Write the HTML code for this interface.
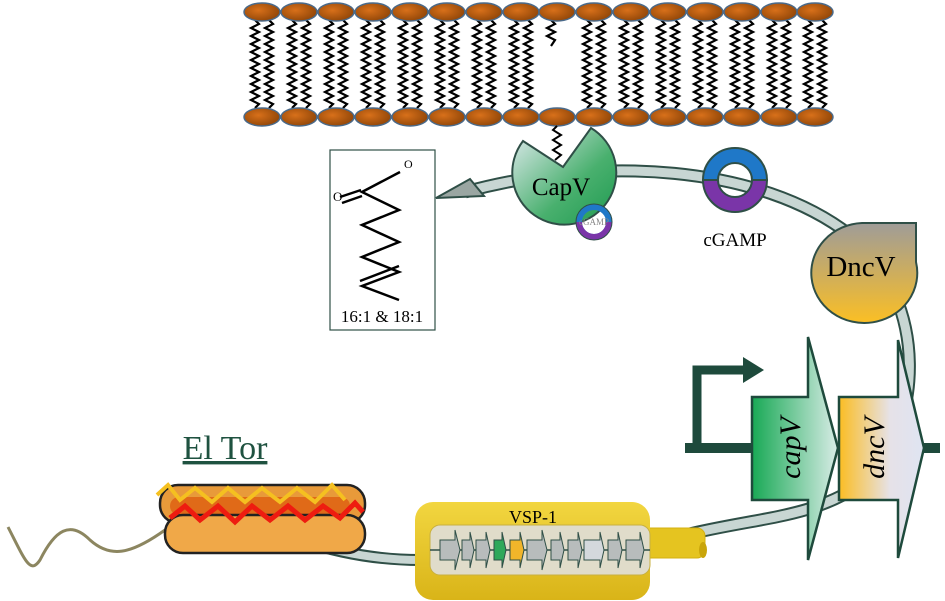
<!DOCTYPE html>
<html><head><meta charset="utf-8"><style>
html,body{margin:0;padding:0;background:#fff;}
svg{display:block;}
text{font-family:"Liberation Serif",serif;}
</style></head><body>
<svg width="945" height="601" viewBox="0 0 945 601" xmlns="http://www.w3.org/2000/svg">
<defs>
<radialGradient id="head" cx="0.4" cy="0.4" r="0.7"><stop offset="0" stop-color="#d8701a"/><stop offset="1" stop-color="#8a4206"/></radialGradient>
<linearGradient id="capv" x1="0" y1="0" x2="1" y2="1"><stop offset="0" stop-color="#e4ecf2"/><stop offset="0.6" stop-color="#49b06e"/><stop offset="1" stop-color="#1e9a50"/></linearGradient>
<linearGradient id="dncv" x1="0" y1="0" x2="0" y2="1"><stop offset="0" stop-color="#9f9c98"/><stop offset="1" stop-color="#fbbf24"/></linearGradient>
<linearGradient id="capg" x1="0" y1="0" x2="1" y2="0"><stop offset="0" stop-color="#18a955"/><stop offset="1" stop-color="#d8ece6"/></linearGradient>
<linearGradient id="dncg" x1="0" y1="0" x2="1" y2="0"><stop offset="0" stop-color="#fbbd22"/><stop offset="0.6" stop-color="#e6e2e8"/><stop offset="1" stop-color="#dfe4f2"/></linearGradient>
<linearGradient id="yel" x1="0" y1="0" x2="0" y2="1"><stop offset="0" stop-color="#f2d640"/><stop offset="1" stop-color="#d9b418"/></linearGradient>
<polyline id="tail" fill="none" stroke="#000" stroke-width="2.2" points="0,20 4,24 -4,28 4,32 -4,36 4,40 -4,44 4,48 -4,52 4,56 -4,60 4,64 -4,68 4,72 -4,76 4,80 -4,84 4,88 -4,92 4,96 -4,100 4,104 0,108"/>
<g id="col">
<use href="#tail" x="-7"/><use href="#tail" x="7"/>
<ellipse cx="0" cy="12" rx="18" ry="9" fill="url(#head)" stroke="#4a6a8a" stroke-width="1.5"/>
<ellipse cx="0" cy="117" rx="18" ry="9" fill="url(#head)" stroke="#4a6a8a" stroke-width="1.5"/>
</g>
</defs>

<!-- membrane -->
<use href="#col" x="262"/><use href="#col" x="299"/><use href="#col" x="336"/><use href="#col" x="373"/>
<use href="#col" x="410"/><use href="#col" x="447"/><use href="#col" x="484"/><use href="#col" x="521"/>
<g>
<polyline fill="none" stroke="#000" stroke-width="2.2" points="551,20 555,24 547,28 555,32 547,36 555,40 551,46"/>
<ellipse cx="557" cy="12" rx="18" ry="9" fill="url(#head)" stroke="#4a6a8a" stroke-width="1.5"/>
<ellipse cx="557" cy="117" rx="18" ry="9" fill="url(#head)" stroke="#4a6a8a" stroke-width="1.5"/>
</g>
<use href="#col" x="594"/><use href="#col" x="631"/><use href="#col" x="668"/><use href="#col" x="705"/>
<use href="#col" x="742"/><use href="#col" x="779"/><use href="#col" x="815"/>

<!-- main arc -->
<path d="M465,192 C600,155 760,165 850,235 C930,300 925,430 860,485 C800,525 740,515 640,548" fill="none" stroke="#2f4f47" stroke-width="13"/>
<path d="M465,192 C600,155 760,165 850,235 C930,300 925,430 860,485 C800,525 740,515 640,548" fill="none" stroke="#c8d6d3" stroke-width="9"/>
<path d="M420,560 Q360,560 300,540" fill="none" stroke="#2f4f47" stroke-width="12"/>
<path d="M420,560 Q360,560 300,540" fill="none" stroke="#c8d6d3" stroke-width="8"/>
<polygon points="436,198 470,179 484,196" fill="#9aa6a2" stroke="#2f4f47" stroke-width="2"/>

<!-- lipid box -->
<rect x="330" y="150" width="105" height="180" fill="#fff" stroke="#2f4f47" stroke-width="1.2"/>
<g stroke="#000" stroke-width="2.5" fill="none">
<polyline points="400,172 362,192 399,210 362,225 399,242 362,257 399,272 362,286 399,300"/>
<line x1="340" y1="197" x2="361" y2="190"/><line x1="342" y1="203" x2="362" y2="196"/>
<line x1="399" y1="266" x2="360" y2="281"/>
</g>
<text x="333" y="201" font-size="13">O</text>
<text x="404" y="168" font-size="12">O</text>
<text x="382" y="322" font-size="17" text-anchor="middle">16:1 &amp; 18:1</text>

<!-- CapV -->
<polyline fill="none" stroke="#000" stroke-width="2" points="557,126 553,130 561,135 553,140 561,145 553,150 561,155 555,160"/>
<path d="M563,167 L591,128 A52,52 0 1 1 523,141 Z" fill="url(#capv)" stroke="#2f4f47" stroke-width="2"/>
<text x="561" y="195" font-size="25" text-anchor="middle">CapV</text>
<circle cx="594" cy="222" r="15" fill="none" stroke="#1f78c8" stroke-width="6"/>
<path d="M579,222 A15,15 0 0 0 609,222" fill="none" stroke="#7a35a8" stroke-width="6"/>
<circle cx="594" cy="222" r="18" fill="none" stroke="#2f4f47" stroke-width="1"/>
<text x="594" y="225" font-size="9" text-anchor="middle" fill="#888" font-family="Liberation Sans,sans-serif">cGAMP</text>

<!-- cGAMP -->
<path d="M703,180 A32,32 0 0 1 767,180 L752,180 A17,17 0 0 0 718,180 Z" fill="#1f78c8" stroke="#2f4f47" stroke-width="2"/>
<path d="M703,180 A32,32 0 0 0 767,180 L752,180 A17,17 0 0 1 718,180 Z" fill="#7a35a8" stroke="#2f4f47" stroke-width="2"/>
<text x="735" y="246" font-size="19" text-anchor="middle">cGAMP</text>

<!-- DncV -->
<path d="M916,223 L916,262 A53,50 0 1 1 862,223 Z" fill="url(#dncv)" stroke="#2f4f47" stroke-width="2"/>
<text x="861" y="276" font-size="29" text-anchor="middle">DncV</text>

<!-- genes -->
<line x1="685" y1="448" x2="940" y2="448" stroke="#1e4a3c" stroke-width="10"/>
<path d="M697,448 L697,370 L745,370" fill="none" stroke="#1e4a3c" stroke-width="9"/>
<polygon points="743,357 764,370 743,383" fill="#1e4a3c"/>
<polygon points="752,397 808,397 808,337 838,448 808,560 808,500 752,500" fill="url(#capg)" stroke="#1e4a3c" stroke-width="2.5"/>
<text transform="translate(800,448) rotate(-90)" font-size="30" font-style="italic" text-anchor="middle">capV</text>
<polygon points="839,397 898,397 898,340 924,448 898,558 898,500 839,500" fill="url(#dncg)" stroke="#1e4a3c" stroke-width="2.5"/>
<text transform="translate(884,448) rotate(-90)" font-size="30" font-style="italic" text-anchor="middle">dncV</text>

<!-- VSP-1 -->
<rect x="640" y="528" width="65" height="30" rx="8" fill="#e5c420" stroke="#d4b010"/>
<ellipse cx="703" cy="550" rx="4" ry="8" fill="#c9a50a"/>
<rect x="415" y="502" width="235" height="98" rx="18" fill="url(#yel)"/>
<rect x="430" y="525" width="220" height="50" rx="10" fill="#e0dcca" stroke="#c8b040"/>
<line x1="430" y1="550" x2="650" y2="550" stroke="#2f4f47" stroke-width="1.5"/>
<g stroke="#2f4f47" stroke-width="1" fill="#b8bcbc">
<polygon points="440,540 455,540 455,530 460,550 455,570 455,560 440,560"/>
<polygon points="462,540 470,540 470,532 474,550 470,568 470,560 462,560"/>
<polygon points="476,540 486,540 486,532 490,550 486,568 486,560 476,560"/>
<polygon points="494,540 502,540 502,532 506,550 502,568 502,560 494,560" fill="#2ea85a"/>
<polygon points="510,540 520,540 520,532 524,550 520,568 520,560 510,560" fill="#f1b52a"/>
<polygon points="527,540 542,540 542,530 547,550 542,570 542,560 527,560"/>
<polygon points="551,540 560,540 560,532 564,550 560,568 560,560 551,560"/>
<polygon points="568,540 578,540 578,532 582,550 578,568 578,560 568,560"/>
<polygon points="584,540 600,540 600,532 604,550 600,568 600,560 584,560" fill="#d4d8dc"/>
<polygon points="608,540 618,540 618,532 622,550 618,568 618,560 608,560"/>
<polygon points="626,540 640,540 640,532 644,550 640,568 640,560 626,560"/>
</g>
<text x="533" y="523" font-size="18" text-anchor="middle">VSP-1</text>

<!-- El Tor -->
<text x="225" y="459" font-size="34" text-anchor="middle" fill="#1f5240" text-decoration="underline">El Tor</text>
<path d="M8,527 C25,560 30,575 40,560 C55,530 70,520 90,540 C110,558 130,555 165,530" fill="none" stroke="#8c8660" stroke-width="3"/>
<rect x="160" y="485" width="205" height="38" rx="18" fill="#e89a3a" stroke="#222" stroke-width="2.5"/>
<rect x="170" y="497" width="180" height="18" rx="9" fill="#e06a18"/>
<rect x="165" y="515" width="200" height="38" rx="18" fill="#f0a848" stroke="#222" stroke-width="2.5"/>
<polyline fill="none" stroke="#f5c020" stroke-width="4" points="157,495 168,485 180,500 195,488 212,502 228,488 245,502 262,488 280,502 297,488 315,502 332,485 345,500"/>
<polyline fill="none" stroke="#ee1c10" stroke-width="5" points="170,518 185,506 200,520 218,506 235,522 252,506 270,520 288,506 305,520 323,506 340,518 355,503 363,512"/>
</svg>
</body></html>
